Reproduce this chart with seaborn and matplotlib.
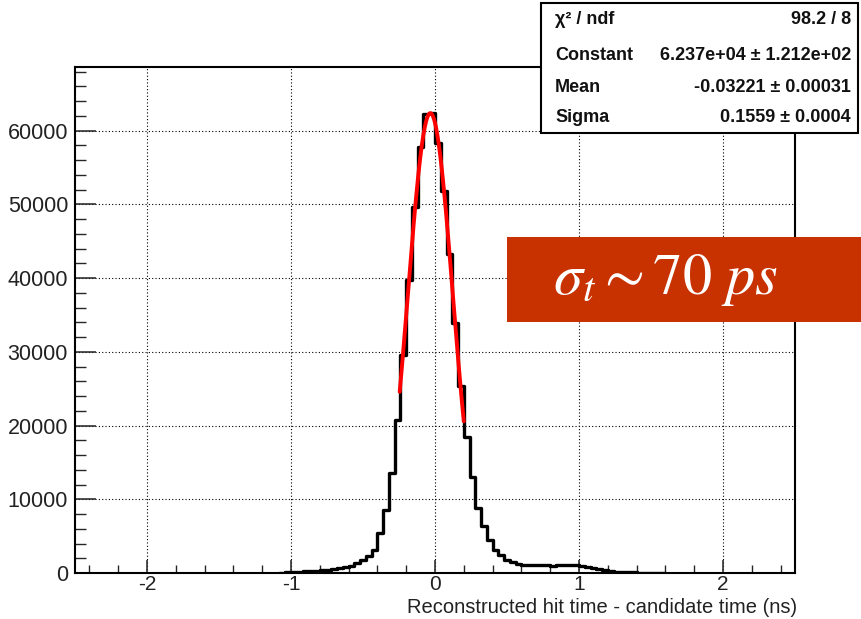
import numpy as np
import pandas as pd
import matplotlib
matplotlib.use("Agg")
import matplotlib.pyplot as plt
import seaborn as sns
from matplotlib.patches import Rectangle
from matplotlib.ticker import MultipleLocator

# ---------------- data ----------------
first_edge = -1.08          # left edge of first non-empty bin (ns)
bin_width = 0.04            # ns
counts = [
    60, 120, 180, 200, 230, 260, 300, 360, 430, 520,          # -1.08 .. -0.72
    650, 800, 1000, 1300, 1700, 2250, 3100, 5400, 8600,      # -0.68 .. -0.36
    13550, 20800, 29600, 39700, 49700, 57800, 62300, 62400,  # -0.32 .. -0.04
    58300, 51800, 43200, 33900, 25400, 18500, 13000, 8850,   # 0.00 .. 0.28
    6350, 4480, 3120, 2440, 1800, 1450, 1250, 1150, 1080,    # 0.32 .. 0.64
    1050, 1030, 1030, 1000, 1020, 1150, 1100, 1050, 950,     # 0.68 .. 1.00
    850, 700, 560, 420, 260, 160, 110, 90, 70, 60, 50, 40,   # 1.04 .. 1.48
    30, 20,                                                  # 1.52 .. 1.56
]
fit_const = 6.237e4
fit_mean = -0.03221
fit_sigma = 0.1559
fit_range = [-0.245, 0.20]

x_ticks = [-2, -1, 0, 1, 2]
y_ticks = [0, 10000, 20000, 30000, 40000, 50000, 60000]
x_lim = [-2.5, 2.5]
y_max = 1.1 * 62390
x_label = "Reconstructed hit time - candidate time (ns)"

stats_names = ["\u03c7\u00b2 / ndf", "Constant", "Mean", "Sigma"]
stats_values = ["98.2 / 8", "6.237e+04 \u00b1 1.212e+02",
                "-0.03221 \u00b1 0.00031", "0.1559 \u00b1 0.0004"]
annotation = r"$\sigma_t{\sim}70\ ps$"

# ---------------- style ----------------
sns.set_style("ticks")
plt.rcParams["font.family"] = ["Liberation Sans", "DejaVu Sans"]
plt.rcParams["mathtext.fontset"] = "stix"

W, H = 862, 619
fig = plt.figure(figsize=(W / 100, H / 100), dpi=100)
ax = fig.add_axes([75 / W, 1 - 573 / H, 720 / W, 506 / H])

n_bins = len(counts)
centers = first_edge + bin_width * (np.arange(n_bins) + 0.5)
df = pd.DataFrame({"t": centers, "n": counts})

sns.histplot(data=df, x="t", weights="n", binwidth=bin_width,
             binrange=(first_edge, first_edge + n_bins * bin_width),
             element="step", fill=False, color="black", linewidth=2.4,
             ax=ax, zorder=3)

xs = np.linspace(fit_range[0], fit_range[1], 200)
ys = fit_const * np.exp(-0.5 * ((xs - fit_mean) / fit_sigma) ** 2)
sns.lineplot(x=xs, y=ys, color="red", linewidth=2.8, ax=ax, zorder=4)

ax.set_xlim(*x_lim)
ax.set_ylim(0, y_max)
ax.set_xticks(x_ticks)
ax.set_xticklabels([str(v) for v in x_ticks])
ax.set_yticks(y_ticks)
ax.set_yticklabels([str(v) for v in y_ticks])
ax.xaxis.set_minor_locator(MultipleLocator(0.2))
ax.yaxis.set_minor_locator(MultipleLocator(2000))
ax.grid(True, which="major", linestyle=(0, (1, 2)), color="black", linewidth=0.8)
ax.set_axisbelow(True)

ax.tick_params(axis="x", which="major", direction="in", length=9.5, width=1.1,
               labelsize=15, pad=1.5, colors="#222222")
ax.tick_params(axis="x", which="minor", direction="in", length=5.5, width=1.0)
ax.tick_params(axis="y", which="major", direction="in", length=15, width=1.1,
               labelsize=15.5, pad=5, colors="#222222")
ax.tick_params(axis="y", which="minor", direction="in", length=8, width=1.0)
for s in ax.spines.values():
    s.set_color("black")
    s.set_linewidth(1.5)

ax.set_ylabel("")
ax.set_xlabel(x_label, fontsize=14.5, color="#222222", loc="right")
ax.xaxis.set_label_coords(1.003, -0.0495)
ax.xaxis.label.set_va("top")

# stats box
fig.add_artist(Rectangle((541 / W, 1 - 133 / H), (858 - 541) / W, 130 / H,
                         transform=fig.transFigure, facecolor="white",
                         edgecolor="black", linewidth=1.5, zorder=5))
row_y = [19, 56, 87, 117]
for name, val, yy in zip(stats_names, stats_values, row_y):
    fig.text(555 / W, 1 - yy / H, name, fontsize=13, fontweight="bold",
             ha="left", va="center", zorder=6, color="#111111")
    fig.text(851 / W, 1 - yy / H, val, fontsize=13, fontweight="bold",
             ha="right", va="center", zorder=6, color="#111111")

# annotation box
fig.add_artist(Rectangle((507 / W, 1 - 322 / H), (W - 507) / W, 85 / H,
                         transform=fig.transFigure, facecolor="#C83200",
                         edgecolor="none", zorder=7))
fig.text(666 / W, 1 - 280 / H, annotation, fontsize=42, color="white",
         ha="center", va="center", zorder=8)

fig.savefig("out.png", dpi=100)
